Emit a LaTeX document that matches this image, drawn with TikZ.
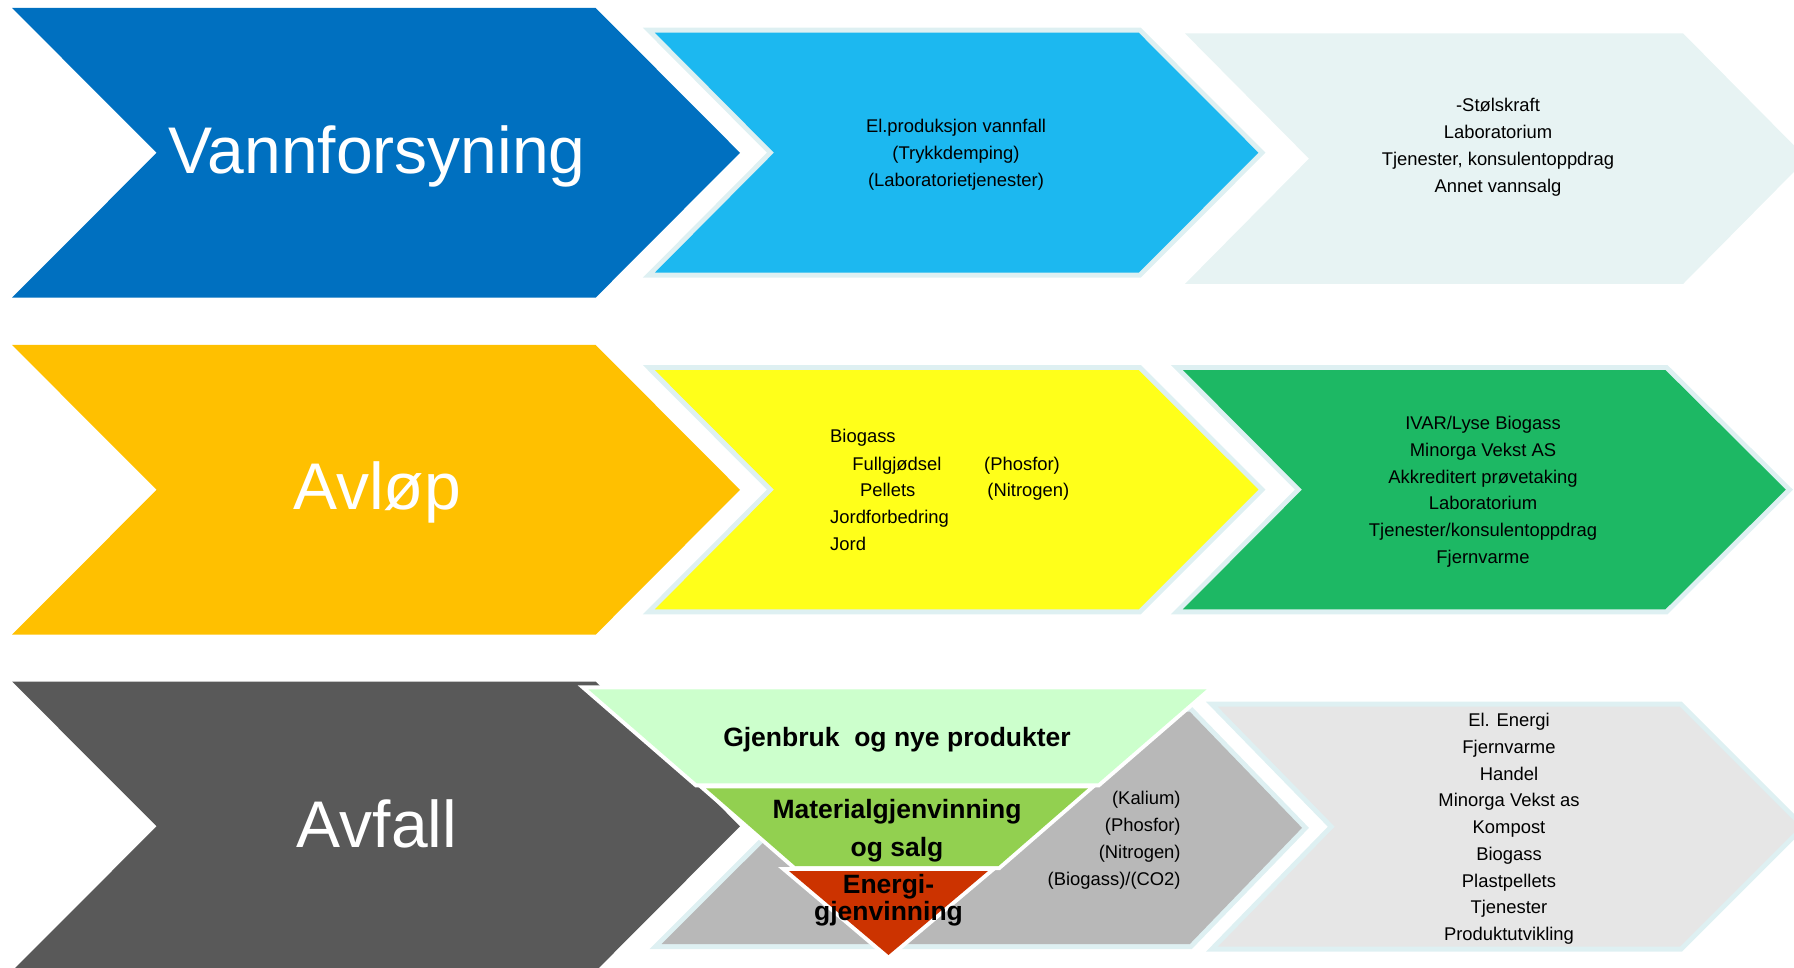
\documentclass[tikz,border=0pt]{standalone}
\usepackage{fontspec}
\setmainfont{Liberation Sans}
\definecolor{cBlue}{RGB}{0,112,192}
\definecolor{cSky}{RGB}{28,184,240}
\definecolor{cPale}{RGB}{231,243,243}
\definecolor{cOrange}{RGB}{255,192,0}
\definecolor{cYellow}{RGB}{255,255,26}
\definecolor{cGreen}{RGB}{29,184,100}
\definecolor{cDark}{RGB}{89,89,89}
\definecolor{cGray}{RGB}{184,184,184}
\definecolor{cLight}{RGB}{230,230,230}
\definecolor{cMint}{RGB}{204,255,204}
\definecolor{cLeaf}{RGB}{146,208,80}
\definecolor{cRed}{RGB}{204,51,0}
\definecolor{cGlow}{RGB}{222,240,242}
% x0 notch flat tip top bot style
\newcommand{\chev}[7]{%
  \path[#7] (#1,#5) -- (#3,#5) -- (#4,{(#5+#6)/2}) -- (#3,#6) -- (#1,#6) -- (#2,{(#5+#6)/2}) -- cycle;}
\tikzset{
  glowchev/.style={preaction={draw=cGlow, line width=5pt, line join=miter}},
  bigtxt/.style={text=white, font=\fontsize{33}{40}\selectfont, anchor=base, inner sep=0pt},
  smalltxt/.style={text=black, font=\fontsize{9.2}{11}\selectfont, anchor=base, inner sep=0pt},
  boldtxt/.style={text=black, font=\bfseries\fontsize{13.25}{16}\selectfont, anchor=base, inner sep=0pt},
  band/.style={draw=white, line width=4pt, line join=miter}
}
\begin{document}
\begin{tikzpicture}[x=0.5pt, y=-0.5pt]
\useasboundingbox (0,0) rectangle (1794,968);
\clip (0,0) rectangle (1794,968);
% right column
\chev{1184.9}{1309}{1683}{1807}{33.3}{284}{fill=cPale}
\chev{1182.9}{1302}{1665.4}{1785.8}{370}{609.3}{fill=cGreen, glowchev}
\chev{1217.8}{1334.8}{1679.8}{1799.8}{706.7}{946.7}{fill=cLight, glowchev}
% middle column
\chev{654.8}{774}{1138.7}{1258.4}{32.7}{272.7}{fill=cSky, glowchev}
\chev{654.8}{774}{1138.7}{1258.4}{370}{609.3}{fill=cYellow, glowchev}
\chev{661.7}{777.9}{1189.8}{1302}{711.7}{944}{fill=cGray, glowchev}
% left column
\chev{12.1}{156.6}{595.7}{740}{8}{297.6}{fill=cBlue}
\chev{12.1}{156.6}{595.7}{740}{345}{634.6}{fill=cOrange}
\chev{12.1}{156.6}{595.7}{740}{681.5}{971.1}{fill=cDark}
% pyramid outlines
\path[band] (588.3,689.3) -- (1206.6,689.3) -- (1098,783.3) -- (696.7,783.3) -- cycle;
\path[band] (706,788.3) -- (1088,788.3) -- (998.5,866) -- (795.2,866) -- cycle;
\path[band] (789,871) -- (988,871) -- (888.5,955) -- cycle;
% pyramid fills
\fill[cMint] (588.3,689.3) -- (1206.6,689.3) -- (1098,783.3) -- (696.7,783.3) -- cycle;
\fill[cLeaf] (706,788.3) -- (1088,788.3) -- (998.5,866) -- (795.2,866) -- cycle;
\fill[cRed] (789,871) -- (988,871) -- (888.5,955) -- cycle;
% big labels
\node[bigtxt] (lab1) at (377,174) {Vannforsyning};
\node[bigtxt] (lab2) at (377,509.9) {Avløp};
\node[bigtxt] (lab3) at (377,847.6) {Avfall};
% row 1
\foreach \t [count=\i] in {{El.produksjon vannfall},{(Trykkdemping)},{(Laboratorietjenester)}}
  \node[smalltxt] (m1\i) at (956,{132.7+27*(\i-1)}) {\t};
\foreach \t [count=\i] in {{-Stølskraft},{Laboratorium},{Tjenester, konsulentoppdrag},{Annet vannsalg}}
  \node[smalltxt] (r1\i) at (1498,{111.7+27*(\i-1)}) {\t};
% row 2
\node[smalltxt, anchor=base west] (y1) at (829.8,442.7) {Biogass};
\node[smalltxt, anchor=base west] (y2) at (852,470) {Fullgjødsel};
\node[smalltxt, anchor=base west] (y2b) at (983.8,470) {(Phosfor)};
\node[smalltxt, anchor=base west] (y3) at (859.7,496.7) {Pellets};
\node[smalltxt, anchor=base west] (y3b) at (987,496.7) {(Nitrogen)};
\node[smalltxt, anchor=base west] (y4) at (829.8,523.4) {Jordforbedring};
\node[smalltxt, anchor=base west] (y5) at (829.8,550) {Jord};
\foreach \t [count=\i] in {{IVAR/Lyse Biogass},{Minorga Vekst AS},{Akkreditert prøvetaking},{Laboratorium},{Tjenester/konsulentoppdrag},{Fjernvarme}}
  \node[smalltxt] (r2\i) at (1483,{429.4+26.8*(\i-1)}) {\t};
% row 3
\node[boldtxt] (p1) at (897,746) {Gjenbruk\ \ og nye produkter};
\node[boldtxt] (p2) at (897,818) {Materialgjenvinning};
\node[boldtxt] (p3) at (897,856) {og salg};
\node[boldtxt] (p4) at (888.5,893.3) {Energi-};
\node[boldtxt] (p5) at (888.5,920.7) {gjenvinning};
\foreach \t [count=\i] in {{(Kalium)},{(Phosfor)},{(Nitrogen)},{(Biogass)/(CO2)}}
  \node[smalltxt, anchor=base east] (g\i) at (1181,{804.4+26.9*(\i-1)}) {\t};
\foreach \t [count=\i] in {{El. Energi},{Fjernvarme},{Handel},{Minorga Vekst as},{Kompost},{Biogass},{Plastpellets},{Tjenester},{Produktutvikling}}
  \node[smalltxt] (r3\i) at (1509,{726.7+26.75*(\i-1)}) {\t};
\end{tikzpicture}
\end{document}
